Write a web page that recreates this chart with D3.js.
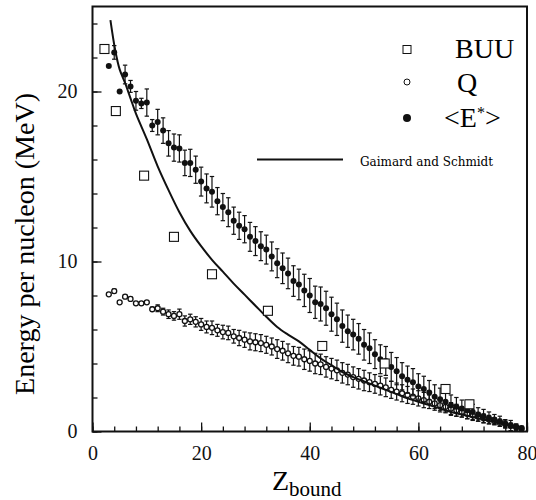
<!DOCTYPE html>
<html>
<head>
<meta charset="utf-8">
<script src="https://d3js.org/d3.v7.min.js"></script>
<style>
  body { margin: 0; background: #fff; }
  .axis .domain { display: none; }
  .axis text { font-family: 'Liberation Serif', 'DejaVu Serif', serif; font-size: 20px; fill: #111; }
  .axis line { stroke: #111; stroke-width: 1.3px; }
</style>
</head>
<body>
<script>
// Z_bound bins
const zbound = [3, 4, 5, 6, 7, 8, 9, 10, 11, 12,
  13, 14, 15, 16, 17, 18, 19, 20, 21, 22,
  23, 24, 25, 26, 27, 28, 29, 30, 31, 32,
  33, 34, 35, 36, 37, 38, 39, 40, 41, 42,
  43, 44, 45, 46, 47, 48, 49, 50, 51, 52,
  53, 54, 55, 56, 57, 58, 59, 60, 61, 62,
  63, 64, 65, 66, 67, 68, 69, 70, 71, 72,
  73, 74, 75, 76, 77, 78, 79];

// <E*> per nucleon and error
const eStar = [21.5, 22.3, 20.0, 21.0, 20.3, 19.45, 19.3, 19.35, 18.0, 18.2,
  17.7, 16.95, 16.7, 16.65, 15.8, 15.8, 15.4, 14.7, 14.3, 14.1,
  13.55, 13.2, 12.9, 12.4, 12.1, 11.9, 11.45, 11.2, 10.9, 10.7,
  10.3, 9.9, 9.6, 9.3, 8.85, 8.65, 8.3, 8.0, 7.6, 7.5,
  7.25, 6.9, 6.6, 6.2, 5.9, 5.7, 5.45, 5.1, 4.9, 4.55,
  4.25, 4.15, 3.8, 3.55, 3.25, 3.05, 2.9, 2.65, 2.5, 2.3,
  2.05, 1.9, 1.75, 1.55, 1.45, 1.35, 1.25, 1.15, 1.0, 0.9,
  0.8, 0.7, 0.6, 0.45, 0.35, 0.25, 0.15];
const eStarErr = [0, 0.4, 0, 0.55, 0.35, 0.55, 0.3, 0.8, 0.35, 0.75,
  0.75, 0.75, 0.8, 0.8, 0.75, 0.8, 0.8, 0.85, 0.85, 0.9,
  0.8, 0.8, 0.85, 0.8, 0.8, 0.8, 0.85, 0.85, 0.85, 0.85,
  0.85, 0.85, 0.9, 0.9, 0.9, 0.9, 0.95, 1.0, 0.95, 1.0,
  1.0, 1.0, 0.95, 0.95, 0.95, 0.9, 0.9, 0.9, 0.9, 0.85,
  0.85, 0.85, 0.85, 0.8, 0.8, 0.8, 0.8, 0.75, 0.75, 0.7,
  0.7, 0.65, 0.6, 0.6, 0.55, 0.5, 0.5, 0.45, 0.4, 0.4,
  0.35, 0.3, 0.3, 0.25, 0.3, 0.2, 0.15];

// Q per nucleon and error
const qVal = [8.07, 8.26, 7.6, 7.93, 7.8, 7.54, 7.54, 7.6, 7.19, 7.25,
  7.05, 6.9, 6.8, 6.9, 6.5, 6.6, 6.45, 6.3, 6.15, 6.1,
  5.95, 5.85, 5.8, 5.6, 5.5, 5.4, 5.3, 5.25, 5.2, 5.1,
  5.0, 4.85, 4.75, 4.6, 4.45, 4.4, 4.25, 4.15, 4.0, 3.95,
  3.8, 3.7, 3.6, 3.45, 3.35, 3.2, 3.1, 3.0, 2.9, 2.8,
  2.7, 2.6, 2.45, 2.35, 2.25, 2.15, 2.05, 1.95, 1.85, 1.75,
  1.65, 1.55, 1.45, 1.35, 1.25, 1.15, 1.05, 0.95, 0.87, 0.78,
  0.7, 0.6, 0.52, 0.43, 0.35, 0.27, 0.2];
const qErr = [0, 0.12, 0, 0.1, 0.1, 0.1, 0.1, 0.1, 0.12, 0.2,
  0.2, 0.25, 0.25, 0.3, 0.3, 0.3, 0.3, 0.35, 0.35, 0.4,
  0.35, 0.4, 0.4, 0.4, 0.45, 0.45, 0.5, 0.5, 0.5, 0.5,
  0.5, 0.55, 0.55, 0.55, 0.55, 0.55, 0.6, 0.6, 0.6, 0.6,
  0.6, 0.6, 0.6, 0.6, 0.6, 0.6, 0.6, 0.6, 0.55, 0.55,
  0.55, 0.55, 0.5, 0.5, 0.5, 0.5, 0.45, 0.45, 0.45, 0.4,
  0.4, 0.4, 0.35, 0.35, 0.35, 0.3, 0.3, 0.3, 0.25, 0.25,
  0.25, 0.2, 0.2, 0.2, 0.15, 0.15, 0.1];

// BUU points
const buuZ = [2.2, 4.3, 9.5, 15, 22, 32.3, 42.3, 53.8, 65, 69.4];
const buuE = [22.5, 18.85, 15.05, 11.45, 9.25, 7.1, 5.03, 4.0, 2.5, 1.6];

// Gaimard and Schmidt curve
const gsZ = [3.3, 4.2, 5, 6, 7, 8, 10, 12, 14, 16, 18, 20, 22, 24, 26, 28, 30,
  32, 34, 36, 38, 40, 42, 44, 46, 48, 50, 52, 54, 56, 58, 60, 62, 64, 66, 68,
  70, 72, 74, 76, 78, 79];
const gsE = [24.2, 22.4, 21.3, 20.5, 19.6, 18.7, 17.2, 15.6, 14.2, 12.9, 11.8,
  10.9, 10.1, 9.4, 8.7, 8.05, 7.4, 6.75, 6.15, 5.7, 5.3, 4.8, 4.3, 3.9, 3.5,
  3.2, 2.95, 2.7, 2.45, 2.2, 1.95, 1.75, 1.55, 1.35, 1.15, 1.0, 0.85, 0.7,
  0.55, 0.4, 0.25, 0.15];

const xMajor = [0, 20, 40, 60, 80];
const yMajor = [0, 10, 20];

const width = 536, height = 500;
const svg = d3.select('body').append('svg')
  .attr('width', width).attr('height', height);

const x = d3.scaleLinear().domain([0, 80]).range([92.5, 527]);
const y = d3.scaleLinear().domain([0, 25]).range([431.5, 6.5]);

const serif = "'Liberation Serif', 'DejaVu Serif', serif";

// ticks (inward)
svg.append('g').attr('class', 'axis')
  .attr('transform', `translate(0,${y(0)})`)
  .call(d3.axisBottom(x).tickValues(d3.range(0, 81, 4)).tickSize(-5).tickFormat(''));
svg.append('g').attr('class', 'axis')
  .attr('transform', `translate(0,${y(0)})`)
  .call(d3.axisBottom(x).tickValues(xMajor).tickSize(-9).tickPadding(14).tickFormat(d3.format('d')));
svg.append('g').attr('class', 'axis')
  .attr('transform', `translate(${x(0)},0)`)
  .call(d3.axisLeft(y).tickValues(d3.range(0, 25, 2)).tickSize(-5).tickFormat(''));
svg.append('g').attr('class', 'axis')
  .attr('transform', `translate(${x(0)},0)`)
  .call(d3.axisLeft(y).tickValues(yMajor).tickSize(-9).tickPadding(15).tickFormat(d3.format('d')));

// frame
svg.append('rect')
  .attr('x', x(0)).attr('y', y(25))
  .attr('width', x(80) - x(0)).attr('height', y(0) - y(25))
  .attr('fill', 'none').attr('stroke', '#111').attr('stroke-width', 2);

const qData = zbound.map((z, i) => ({z: z, v: qVal[i], e: qErr[i]}));
const eData = zbound.map((z, i) => ({z: z, v: eStar[i], e: eStarErr[i]}));

function errorBars(data, cls) {
  const g = svg.append('g').attr('class', cls)
    .attr('stroke', '#111').attr('stroke-width', 1.2);
  const bars = g.selectAll('g').data(data.filter(d => d.e > 0)).join('g');
  bars.append('line')
    .attr('x1', d => x(d.z)).attr('x2', d => x(d.z))
    .attr('y1', d => y(d.v + d.e)).attr('y2', d => y(d.v - d.e));
  bars.append('line')
    .attr('x1', d => x(d.z) - 2.2).attr('x2', d => x(d.z) + 2.2)
    .attr('y1', d => y(d.v + d.e)).attr('y2', d => y(d.v + d.e));
  bars.append('line')
    .attr('x1', d => x(d.z) - 2.2).attr('x2', d => x(d.z) + 2.2)
    .attr('y1', d => y(d.v - d.e)).attr('y2', d => y(d.v - d.e));
}

errorBars(qData, 'q-err');
svg.append('g').selectAll('circle').data(qData).join('circle')
  .attr('cx', d => x(d.z)).attr('cy', d => y(d.v)).attr('r', 2.5)
  .attr('fill', '#fff').attr('stroke', '#111').attr('stroke-width', 1.3);

errorBars(eData, 'e-err');
svg.append('g').selectAll('circle').data(eData).join('circle')
  .attr('cx', d => x(d.z)).attr('cy', d => y(d.v)).attr('r', 3)
  .attr('fill', '#111');

// Gaimard and Schmidt line
const gsData = gsZ.map((z, i) => [z, gsE[i]]);
svg.append('path').datum(gsData)
  .attr('fill', 'none').attr('stroke', '#111').attr('stroke-width', 2)
  .attr('d', d3.line().x(d => x(d[0])).y(d => y(d[1])).curve(d3.curveCatmullRom));

// BUU squares
svg.append('g').selectAll('rect').data(buuZ.map((z, i) => [z, buuE[i]])).join('rect')
  .attr('x', d => x(d[0]) - 4.5).attr('y', d => y(d[1]) - 4.5)
  .attr('width', 9).attr('height', 9)
  .attr('fill', '#fff').attr('stroke', '#111').attr('stroke-width', 1.1);

// legend
const lg = svg.append('g');
lg.append('rect').attr('x', 403).attr('y', 45.5).attr('width', 8).attr('height', 8)
  .attr('fill', '#fff').attr('stroke', '#111');
lg.append('circle').attr('cx', 407).attr('cy', 82).attr('r', 3)
  .attr('fill', '#fff').attr('stroke', '#111');
lg.append('circle').attr('cx', 407).attr('cy', 118).attr('r', 4).attr('fill', '#111');
lg.append('line').attr('x1', 257).attr('x2', 343).attr('y1', 159.5).attr('y2', 159.5)
  .attr('stroke', '#111').attr('stroke-width', 2);

lg.append('text').attr('x', 455).attr('y', 58)
  .style('font-family', serif).style('font-size', '28px').text('BUU');
lg.append('text').attr('x', 457).attr('y', 92)
  .style('font-family', serif).style('font-size', '28px').text('Q');
const et = lg.append('text').attr('x', 444).attr('y', 127)
  .style('font-family', serif).style('font-size', '28px');
et.append('tspan').text('<E');
et.append('tspan').attr('dy', -9).style('font-size', '16px').text('*');
et.append('tspan').attr('dy', 9).text('>');
lg.append('text').attr('x', 360).attr('y', 166)
  .style('font-family', "'DejaVu Serif', serif").style('font-size', '12px')
  .text('Gaimard and Schmidt');

// axis titles
svg.append('text')
  .attr('transform', 'translate(34,244) rotate(-90)')
  .attr('text-anchor', 'middle')
  .style('font-family', serif).style('font-size', '28px')
  .text('Energy per nucleon (MeV)');

const xt = svg.append('text').attr('x', 272).attr('y', 490)
  .style('font-family', serif).style('font-size', '28px');
xt.append('tspan').text('Z');
xt.append('tspan').attr('dy', 6).style('font-size', '21px').text('bound');
</script>
</body>
</html>
